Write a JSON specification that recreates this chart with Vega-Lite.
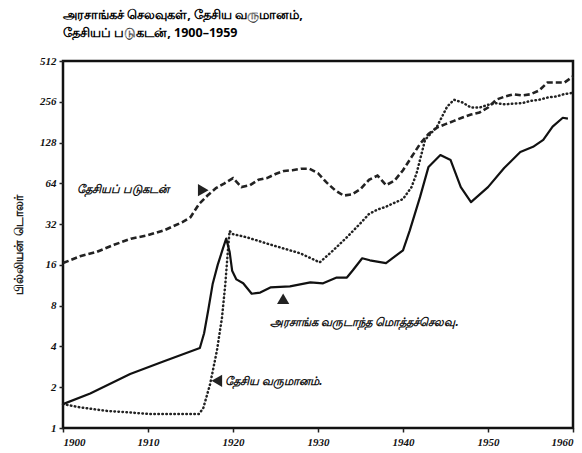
{
  "$schema": "https://vega.github.io/schema/vega-lite/v6.json",
  "width": 510,
  "height": 367,
  "autosize": {"type": "none"},
  "padding": {"left": 63, "top": 61, "right": 9, "bottom": 25},
  "background": "white",
  "title": {
    "text": ["அரசாங்கச் செலவுகள், தேசிய வருமானம்,", "தேசியப் படுகடன், 1900–1959"],
    "anchor": "start",
    "frame": "group",
    "fontSize": 12.5,
    "fontWeight": "bold",
    "font": "Noto Sans",
    "lineHeight": 18,
    "offset": 16,
    "color": "#000"
  },
  "config": {
    "view": {"stroke": "#111", "strokeWidth": 2.5},
    "axis": {"grid": false, "domain": false, "tickColor": "#222", "tickWidth": 1.5, "labelColor": "#111", "labelFont": "Liberation Serif", "labelFontStyle": "italic", "labelFontWeight": "bold", "labelFontSize": 11}
  },
  "datasets": {
    "lines": [
      {"s": "income", "year": 1900, "v": 16.5},
      {"s": "income", "year": 1902, "v": 18.5},
      {"s": "income", "year": 1904, "v": 20},
      {"s": "income", "year": 1906, "v": 22.5},
      {"s": "income", "year": 1908, "v": 25},
      {"s": "income", "year": 1910, "v": 26.5},
      {"s": "income", "year": 1912, "v": 29},
      {"s": "income", "year": 1914, "v": 33},
      {"s": "income", "year": 1915, "v": 36},
      {"s": "income", "year": 1916, "v": 45},
      {"s": "income", "year": 1917, "v": 52},
      {"s": "income", "year": 1918, "v": 59},
      {"s": "income", "year": 1919, "v": 64},
      {"s": "income", "year": 1920, "v": 70},
      {"s": "income", "year": 1921, "v": 60},
      {"s": "income", "year": 1922, "v": 62},
      {"s": "income", "year": 1923, "v": 68},
      {"s": "income", "year": 1924, "v": 70},
      {"s": "income", "year": 1925, "v": 75},
      {"s": "income", "year": 1926, "v": 79},
      {"s": "income", "year": 1927, "v": 80},
      {"s": "income", "year": 1928, "v": 82},
      {"s": "income", "year": 1929, "v": 82},
      {"s": "income", "year": 1930, "v": 76},
      {"s": "income", "year": 1931, "v": 65},
      {"s": "income", "year": 1932, "v": 57},
      {"s": "income", "year": 1933, "v": 52},
      {"s": "income", "year": 1934, "v": 53},
      {"s": "income", "year": 1935, "v": 58},
      {"s": "income", "year": 1936, "v": 68},
      {"s": "income", "year": 1937, "v": 73},
      {"s": "income", "year": 1938, "v": 62},
      {"s": "income", "year": 1939, "v": 67},
      {"s": "income", "year": 1940, "v": 80},
      {"s": "income", "year": 1941, "v": 100},
      {"s": "income", "year": 1942, "v": 125},
      {"s": "income", "year": 1943, "v": 148},
      {"s": "income", "year": 1944, "v": 165},
      {"s": "income", "year": 1945, "v": 175},
      {"s": "income", "year": 1946, "v": 185},
      {"s": "income", "year": 1947, "v": 196},
      {"s": "income", "year": 1948, "v": 206},
      {"s": "income", "year": 1949, "v": 213},
      {"s": "income", "year": 1950, "v": 232},
      {"s": "income", "year": 1951, "v": 266},
      {"s": "income", "year": 1952, "v": 280},
      {"s": "income", "year": 1953, "v": 291},
      {"s": "income", "year": 1954, "v": 285},
      {"s": "income", "year": 1955, "v": 291},
      {"s": "income", "year": 1956, "v": 310},
      {"s": "income", "year": 1957, "v": 355},
      {"s": "income", "year": 1958, "v": 355},
      {"s": "income", "year": 1959, "v": 355},
      {"s": "income", "year": 1960, "v": 394},
      {"s": "debt", "year": 1900, "v": 1.5},
      {"s": "debt", "year": 1902, "v": 1.42},
      {"s": "debt", "year": 1905, "v": 1.34},
      {"s": "debt", "year": 1908, "v": 1.3},
      {"s": "debt", "year": 1910, "v": 1.27},
      {"s": "debt", "year": 1913, "v": 1.27},
      {"s": "debt", "year": 1916, "v": 1.27},
      {"s": "debt", "year": 1916.5, "v": 1.4},
      {"s": "debt", "year": 1917.3, "v": 2.1},
      {"s": "debt", "year": 1918.1, "v": 3.7},
      {"s": "debt", "year": 1918.7, "v": 6.5},
      {"s": "debt", "year": 1919.1, "v": 11.6},
      {"s": "debt", "year": 1919.4, "v": 20.5},
      {"s": "debt", "year": 1919.6, "v": 28.5},
      {"s": "debt", "year": 1920, "v": 27},
      {"s": "debt", "year": 1921.6, "v": 25.6},
      {"s": "debt", "year": 1924.7, "v": 22.3},
      {"s": "debt", "year": 1927.9, "v": 19.5},
      {"s": "debt", "year": 1930.2, "v": 16.7},
      {"s": "debt", "year": 1931.8, "v": 20.5},
      {"s": "debt", "year": 1933.4, "v": 25.6},
      {"s": "debt", "year": 1935, "v": 32.5},
      {"s": "debt", "year": 1936, "v": 38},
      {"s": "debt", "year": 1937, "v": 41},
      {"s": "debt", "year": 1938, "v": 43},
      {"s": "debt", "year": 1939, "v": 46},
      {"s": "debt", "year": 1940, "v": 49},
      {"s": "debt", "year": 1941, "v": 60},
      {"s": "debt", "year": 1941.6, "v": 76},
      {"s": "debt", "year": 1942.6, "v": 134},
      {"s": "debt", "year": 1944, "v": 168},
      {"s": "debt", "year": 1945.2, "v": 236},
      {"s": "debt", "year": 1946, "v": 265},
      {"s": "debt", "year": 1947, "v": 253},
      {"s": "debt", "year": 1948, "v": 232},
      {"s": "debt", "year": 1949, "v": 232},
      {"s": "debt", "year": 1950, "v": 243},
      {"s": "debt", "year": 1951, "v": 250},
      {"s": "debt", "year": 1952, "v": 245},
      {"s": "debt", "year": 1953, "v": 248},
      {"s": "debt", "year": 1954, "v": 250},
      {"s": "debt", "year": 1955, "v": 260},
      {"s": "debt", "year": 1956, "v": 265},
      {"s": "debt", "year": 1957, "v": 275},
      {"s": "debt", "year": 1958, "v": 280},
      {"s": "debt", "year": 1959, "v": 292},
      {"s": "debt", "year": 1960, "v": 298},
      {"s": "spend", "year": 1900, "v": 1.5},
      {"s": "spend", "year": 1903.2, "v": 1.8},
      {"s": "spend", "year": 1907.9, "v": 2.5},
      {"s": "spend", "year": 1911.8, "v": 3.1},
      {"s": "spend", "year": 1916.1, "v": 3.9},
      {"s": "spend", "year": 1916.6, "v": 5},
      {"s": "spend", "year": 1917.1, "v": 7.5},
      {"s": "spend", "year": 1917.6, "v": 11.5},
      {"s": "spend", "year": 1918.2, "v": 16},
      {"s": "spend", "year": 1918.8, "v": 21},
      {"s": "spend", "year": 1919.2, "v": 25},
      {"s": "spend", "year": 1919.6, "v": 20},
      {"s": "spend", "year": 1919.9, "v": 14.5},
      {"s": "spend", "year": 1920.4, "v": 12.5},
      {"s": "spend", "year": 1921.2, "v": 11.7},
      {"s": "spend", "year": 1922.2, "v": 9.8},
      {"s": "spend", "year": 1923.2, "v": 10},
      {"s": "spend", "year": 1924.4, "v": 10.9},
      {"s": "spend", "year": 1926.7, "v": 11.1},
      {"s": "spend", "year": 1929.1, "v": 11.9},
      {"s": "spend", "year": 1930.6, "v": 11.7},
      {"s": "spend", "year": 1932.2, "v": 12.9},
      {"s": "spend", "year": 1933.4, "v": 12.9},
      {"s": "spend", "year": 1934.1, "v": 14.6},
      {"s": "spend", "year": 1935.2, "v": 17.9},
      {"s": "spend", "year": 1936.1, "v": 17.3},
      {"s": "spend", "year": 1938, "v": 16.5},
      {"s": "spend", "year": 1940, "v": 20.5},
      {"s": "spend", "year": 1940.8, "v": 28.8},
      {"s": "spend", "year": 1942, "v": 50.6},
      {"s": "spend", "year": 1943, "v": 84.6},
      {"s": "spend", "year": 1944.4, "v": 103.5},
      {"s": "spend", "year": 1945.6, "v": 95},
      {"s": "spend", "year": 1946.8, "v": 60},
      {"s": "spend", "year": 1948, "v": 46.5},
      {"s": "spend", "year": 1950, "v": 60},
      {"s": "spend", "year": 1951.9, "v": 83},
      {"s": "spend", "year": 1953.8, "v": 109},
      {"s": "spend", "year": 1955.3, "v": 119},
      {"s": "spend", "year": 1956.5, "v": 134},
      {"s": "spend", "year": 1957.6, "v": 168},
      {"s": "spend", "year": 1958.8, "v": 195},
      {"s": "spend", "year": 1959.4, "v": 192}
    ],
    "labels": [
      {"t": "தேசியப் படுகடன்", "year": 1901.6, "v": 57},
      {"t": "அரசாங்க வருடாந்த மொத்தச்செலவு.", "year": 1924.4, "v": 6.0},
      {"t": "தேசிய வருமானம்.", "year": 1919.1, "v": 2.19}
    ],
    "arrows": [
      {"shape": "triangle-right", "year": 1916.5, "v": 57},
      {"shape": "triangle-up", "year": 1925.9, "v": 9.0},
      {"shape": "triangle-left", "year": 1918.1, "v": 2.23}
    ]
  },
  "encoding": {
    "x": {
      "field": "year", "type": "quantitative",
      "scale": {"domain": [1900, 1960], "nice": false, "zero": false},
      "axis": {"values": [1900, 1910, 1920, 1930, 1940, 1950, 1960], "format": "d", "title": null, "tickSize": 4, "labelPadding": 4}
    },
    "y": {
      "field": "v", "type": "quantitative",
      "scale": {"type": "log", "base": 2, "domain": [1, 512], "nice": false},
      "axis": {"values": [1, 2, 4, 8, 16, 32, 64, 128, 256, 512], "format": "d", "tickSize": 4, "labelPadding": 3, "title": "பில்லியன் டொலர்", "titleFont": "Noto Sans", "titleFontSize": 12, "titleFontWeight": "bold", "titleColor": "#222", "titlePadding": 14}
    }
  },
  "layer": [
    {
      "data": {"name": "lines"},
      "transform": [{"filter": "datum.s === 'income'"}],
      "mark": {"type": "line", "color": "#222", "strokeWidth": 2.6, "strokeDash": [6, 3], "interpolate": "linear"}
    },
    {
      "data": {"name": "lines"},
      "transform": [{"filter": "datum.s === 'debt'"}],
      "mark": {"type": "line", "color": "#222", "strokeWidth": 2.5, "strokeDash": [0.5, 3.5], "strokeCap": "round", "interpolate": "linear"}
    },
    {
      "data": {"name": "lines"},
      "transform": [{"filter": "datum.s === 'spend'"}],
      "mark": {"type": "line", "color": "#111", "strokeWidth": 2.2, "interpolate": "linear", "strokeJoin": "round"}
    },
    {
      "data": {"name": "labels"},
      "mark": {"type": "text", "align": "left", "baseline": "middle", "font": "Noto Sans", "fontSize": 11.5, "fontStyle": "italic", "fontWeight": "bold", "color": "#111"},
      "encoding": {"text": {"field": "t"}}
    },
    {
      "data": {"name": "arrows"},
      "mark": {"type": "point", "filled": true, "color": "#222", "size": 150, "opacity": 1},
      "encoding": {"shape": {"field": "shape", "type": "nominal", "scale": null}}
    }
  ]
}
